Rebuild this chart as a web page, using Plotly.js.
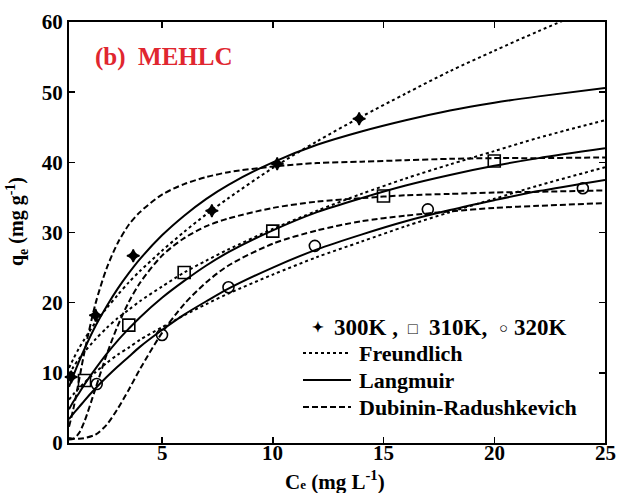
<!DOCTYPE html>
<html>
<head>
<meta charset="utf-8">
<script src="https://cdn.plot.ly/plotly-3.0.1.min.js"></script>
<style>html,body{margin:0;padding:0;background:#fff;}#chart{width:619px;height:493px;}</style>
</head>
<body>
<div id="chart"></div>
<script>
// Experimental points
const x300 = [0.9, 2.0, 3.7, 7.25, 10.2, 13.9];
const q300 = [9.4, 18.2, 26.7, 33.1, 39.8, 46.2];
const x310 = [1.5, 3.5, 6.0, 10.0, 15.0, 20.0];
const q310 = [8.9, 16.8, 24.3, 30.2, 35.2, 40.2];
const x320 = [2.05, 5.0, 8.0, 11.9, 17.0, 24.0];
const q320 = [8.4, 15.4, 22.2, 28.1, 33.3, 36.3];

// Fitted curves at these Ce values
const xFit = [0.8, 1, 1.25, 1.5, 2, 2.5, 3, 3.5, 4, 5, 6, 7, 8, 10, 12, 14, 16, 18, 20, 22, 25];
const freund300 = [10.7, 12.0, 13.5, 14.8, 17.2, 19.2, 21.1, 22.9, 24.5, 27.4, 30.1, 32.6, 34.9, 39.2, 43.0, 46.5, 49.8, 53.0, 55.9, 58.7, 62.7];
const freund310 = [9.8, 10.85, 12.0, 13.0, 14.8, 16.4, 17.8, 19.0, 20.2, 22.3, 24.3, 26.0, 27.6, 30.5, 33.1, 35.5, 37.7, 39.7, 41.6, 43.5, 46.0];
const freund320 = [6.2, 6.95, 7.8, 8.6, 10.1, 11.4, 12.6, 13.6, 14.7, 16.5, 18.2, 19.8, 21.3, 24.0, 26.5, 28.7, 30.9, 32.9, 34.8, 36.7, 39.3];
const lang300 = [8.0, 9.65, 11.6, 13.4, 16.7, 19.5, 22.0, 24.2, 26.2, 29.6, 32.4, 34.8, 36.8, 40.0, 42.5, 44.4, 46.0, 47.4, 48.5, 49.4, 50.6];
const lang310 = [4.8, 5.9, 7.1, 8.35, 10.6, 12.7, 14.6, 16.3, 17.9, 20.7, 23.1, 25.3, 27.2, 30.3, 32.9, 34.9, 36.7, 38.2, 39.5, 40.6, 42.0];
const lang320 = [3.4, 4.2, 5.1, 6.05, 7.8, 9.4, 10.9, 12.3, 13.7, 16.1, 18.3, 20.2, 22.0, 25.0, 27.6, 29.7, 31.6, 33.2, 34.6, 35.9, 37.5];
const dr300 = [2.3, 4.9, 8.9, 13.0, 19.9, 24.9, 28.5, 31.1, 32.9, 35.4, 36.9, 37.9, 38.6, 39.4, 39.9, 40.1, 40.3, 40.5, 40.6, 40.6, 40.7];
const dr310 = [0.5, 0.6, 1.4, 3.1, 7.8, 12.6, 16.7, 20.1, 22.8, 26.7, 29.2, 30.9, 32.0, 33.5, 34.4, 34.9, 35.3, 35.5, 35.7, 35.8, 36.0];
const dr320 = [0.7, 0.6, 0.6, 0.7, 1.2, 2.6, 4.9, 7.6, 10.5, 15.7, 19.8, 22.9, 25.3, 28.4, 30.3, 31.6, 32.4, 33.0, 33.5, 33.8, 34.2];

const xTicks = [5, 10, 15, 20, 25];
const yTicks = [0, 10, 20, 30, 40, 50, 60];

const FONT = 'Liberation Serif, Times New Roman, serif';
const lw = 2;
function fit(y, dash) {
  return {x: xFit, y: y, mode: 'lines', type: 'scatter', showlegend: false,
    line: {color: '#000', width: lw, dash: dash, shape: 'spline', smoothing: 0.8}};
}
function pts(x, y, sym, size) {
  return {x: x, y: y, mode: 'markers', type: 'scatter', showlegend: false, cliponaxis: false,
    marker: {symbol: sym, size: size, color: '#000', line: {color: '#000', width: 1.6}}};
}
const DASH = '6px,3px';
const data = [
  fit(freund300, 'dot'), fit(freund310, 'dot'), fit(freund320, 'dot'),
  fit(lang300, 'solid'), fit(lang310, 'solid'), fit(lang320, 'solid'),
  fit(dr300, DASH), fit(dr310, DASH), fit(dr320, DASH),
  pts(x300, q300, 'star-diamond', 9),
  pts(x310, q310, 'square-open', 12),
  pts(x320, q320, 'circle-open', 11)
];

// layout helpers (plot area 69..605 x 22..443)
const L = 69, R = 605, T = 22, B = 443;
const px = v => (v - L) / (R - L);
const py = v => (B - v) / (B - T);

function txt(x, y, text, size, anchor, extra) {
  return Object.assign({xref: 'paper', yref: 'paper', x: px(x), y: py(y), xanchor: anchor || 'left', yanchor: 'middle',
    showarrow: false, text: text, font: {family: FONT, size: size, color: '#000', weight: 'bold'}}, extra || {});
}
const annotations = [
  txt(93, 57, '(b)  MEHLC', 25, 'left', {font: {family: FONT, size: 25, color: '#e0262f', weight: 'bold'}}),
  txt(318, 327, '\u2726', 14, 'center'),
  txt(332, 327, '300K ,', 23),
  txt(413, 328, '\u25A1', 16, 'center'),
  txt(427, 327, '310K,', 23),
  txt(503, 328, '\u25CB', 15, 'center'),
  txt(512, 327, '320K', 23),
  txt(357, 353, 'Freundlich', 22),
  txt(357, 380, 'Langmuir', 22),
  txt(357, 407, 'Dubinin-Radushkevich', 22),
  txt(335, 480, 'C<span style="font-size:13px">e</span> (mg L<sup>-1</sup>)', 21, 'center'),
  txt(17, 222, 'q<sub>e</sub> (mg g<sup>-1</sup>)', 20, 'center', {textangle: -90})
];
// x tick labels positioned by data value
xTicks.forEach(v => annotations.push({xref: 'x', yref: 'paper', x: v, y: py(453), xanchor: 'center', yanchor: 'middle',
  showarrow: false, text: String(v), font: {family: FONT, size: 21, color: '#000', weight: 'bold'}}));

const shapes = [
  {type: 'line', xref: 'paper', yref: 'paper', x0: px(303), x1: px(351), y0: py(353), y1: py(353), line: {color: '#000', width: 2, dash: 'dot'}},
  {type: 'line', xref: 'paper', yref: 'paper', x0: px(303), x1: px(351), y0: py(380), y1: py(380), line: {color: '#000', width: 2, dash: 'solid'}},
  {type: 'line', xref: 'paper', yref: 'paper', x0: px(303), x1: px(351), y0: py(407), y1: py(407), line: {color: '#000', width: 2, dash: DASH}}
];

const tickFont = {family: FONT, size: 21, color: '#000', weight: 'bold'};
const layout = {
  width: 619, height: 493,
  margin: {l: L, r: 619 - R, t: T, b: 493 - B},
  paper_bgcolor: '#fff', plot_bgcolor: '#fff',
  showlegend: false,
  xaxis: {range: [0.8, 25], tickvals: xTicks, showticklabels: false, ticks: 'inside', ticklen: 6, tickwidth: 1.5,
    tickcolor: '#000', showline: true, linecolor: '#000', linewidth: 2, mirror: 'ticks', showgrid: false, zeroline: false},
  yaxis: {range: [0, 60], tickvals: yTicks, ticks: 'inside', ticklen: 6, tickwidth: 1.5,
    tickcolor: '#000', showline: true, linecolor: '#000', linewidth: 2, mirror: 'ticks', showgrid: false, zeroline: false,
    tickfont: tickFont},
  annotations: annotations,
  shapes: shapes
};
Plotly.newPlot('chart', data, layout, {displayModeBar: false, staticPlot: true});
</script>
</body>
</html>
